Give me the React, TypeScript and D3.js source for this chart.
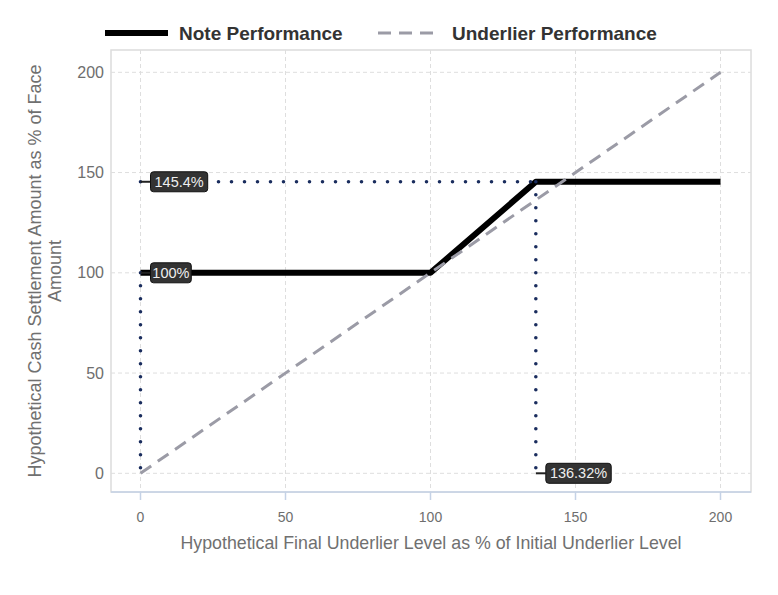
import React from "react";
import * as d3 from "d3";

const xTicks = [0, 50, 100, 150, 200];
const yTicks = [0, 50, 100, 150, 200];
const noteX = [0, 100, 136.32, 200];
const noteY = [100, 100, 145.4, 145.4];
const underX = [0, 200];
const underY = [0, 200];
const labelTexts = ["145.4%", "100%", "136.32%"];
const labelX = [0, 0, 136.32];
const labelY = [145.4, 100, 0];

const W = 778, H = 595;
const L = 111, R = 751, T = 50, B = 492;

export default function App() {
  const x = d3.scaleLinear().domain([0, 200]).range([140.5, 720.5]);
  const y = d3.scaleLinear().domain([0, 200]).range([473.3, 72.3]);
  const line = d3.line<[number, number]>().x(d => x(d[0])).y(d => y(d[1]));
  const notePts = noteX.map((v, i) => [v, noteY[i]] as [number, number]);
  const underPts = underX.map((v, i) => [v, underY[i]] as [number, number]);
  const kx = noteX[2], ky = noteY[2];
  const dotted: [number, number][][] = [
    [[0, ky], [kx, ky]],
    [[0, 100], [0, 0]],
    [[kx, ky], [kx, 0]],
  ];
  const font = "Arial, 'Liberation Sans', sans-serif";
  return (
    <svg width={W} height={H} style={{ position: "absolute", left: 0, top: 0, background: "#fff" }} fontFamily={font}>
      {/* legend */}
      <line x1={105} x2={168} y1={33} y2={33} stroke="#000" strokeWidth={6} />
      <text x={179} y={39.5} fontSize={19} fontWeight="bold" fill="#333">Note Performance</text>
      <line x1={378} x2={440} y1={33} y2={33} stroke="#9b9ba6" strokeWidth={3} strokeDasharray="13,8" />
      <text x={452} y={39.5} fontSize={19} fontWeight="bold" fill="#333">Underlier Performance</text>

      {/* plot border */}
      <rect x={L} y={T} width={R - L} height={B - T} fill="none" stroke="#dcdcdc" strokeWidth={1.5} />
      {/* grid */}
      {xTicks.map(t => (
        <line key={"gx" + t} x1={x(t)} x2={x(t)} y1={T} y2={B} stroke="#dedede" strokeDasharray="4,3" />
      ))}
      {yTicks.map(t => (
        <line key={"gy" + t} x1={L} x2={R} y1={y(t)} y2={y(t)} stroke="#dedede" strokeDasharray="4,3" />
      ))}
      {/* bottom axis */}
      <line x1={L} x2={R} y1={B} y2={B} stroke="#c5d2e6" strokeWidth={1.5} />
      {xTicks.map(t => (
        <g key={"xt" + t}>
          <line x1={x(t)} x2={x(t)} y1={B} y2={B + 8} stroke="#c5d2e6" strokeWidth={1.5} />
          <text x={x(t)} y={522} fontSize={14} fill="#6e6e6e" textAnchor="middle">{t}</text>
        </g>
      ))}
      {yTicks.map(t => (
        <text key={"yt" + t} x={104} y={y(t) + 5.5} fontSize={16} fill="#6e6e6e" textAnchor="end">{t}</text>
      ))}
      {/* axis titles */}
      <text x={431} y={549} fontSize={17.8} fill="#707070" textAnchor="middle">
        Hypothetical Final Underlier Level as % of Initial Underlier Level
      </text>
      <g transform="translate(0,271) rotate(-90)">
        <text x={0} y={41} fontSize={18} fill="#707070" textAnchor="middle">Hypothetical Cash Settlement Amount as % of Face</text>
        <text x={0} y={61} fontSize={18} fill="#707070" textAnchor="middle">Amount</text>
      </g>

      {/* note */}
      <path d={line(notePts) || ""} fill="none" stroke="#000" strokeWidth={6} strokeLinejoin="round" />
      {/* underlier */}
      <path d={line(underPts) || ""} fill="none" stroke="#9b9ba6" strokeWidth={3} strokeDasharray="13,8" />
      {/* dotted guides */}
      {dotted.map((seg, i) => (
        <path key={"d" + i} d={line(seg) || ""} fill="none" stroke="#1a2d5e" strokeWidth={3.6} strokeLinecap="round" strokeDasharray="0,13" />
      ))}
      {/* labels */}
      {labelTexts.map((txt, i) => {
        const px = x(labelX[i]), py = y(labelY[i]);
        const bw = txt.length * 8.2 + 8;
        const bx = px + 10;
        return (
          <g key={"l" + i}>
            <line x1={px} x2={bx} y1={py} y2={py} stroke="#222" strokeWidth={2} />
            <rect x={bx} y={py - 10} width={bw} height={20} rx={3} fill="#333" stroke="#111" strokeWidth={1} />
            <text x={bx + bw / 2} y={py + 5} fontSize={14.5} fill="#eee" textAnchor="middle">{txt}</text>
          </g>
        );
      })}
    </svg>
  );
}
